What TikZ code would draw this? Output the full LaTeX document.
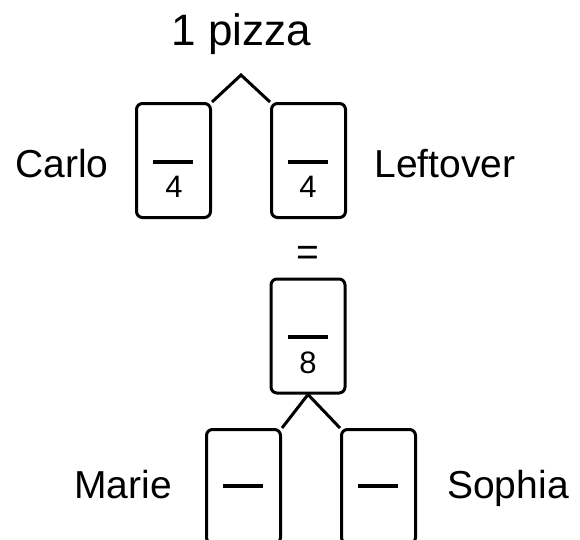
\documentclass[tikz,border=0pt]{standalone}
\usepackage{fontspec}
\setmainfont{Liberation Sans}
\begin{document}
\begin{tikzpicture}[x=1pt,y=-1pt,
  box/.style={draw,line width=3pt,rounded corners=6pt,minimum width=74pt,minimum height=114pt,inner sep=0pt},
  fbar/.style={fill,minimum width=40pt,minimum height=4pt,inner sep=0pt},
  lbl/.style={font=\fontsize{39}{39}\selectfont,anchor=base,inner sep=0pt},
  ttl/.style={font=\fontsize{44}{44}\selectfont,anchor=base,inner sep=0pt},
  dig/.style={font=\fontsize{31}{31}\selectfont,anchor=base,inner sep=0pt},
  conn/.style={line width=3pt,line join=miter}]
\useasboundingbox (0,0) rectangle (580,539);
\clip (0,0) rectangle (580,539);
% boxes
\node[box] (L) at (173.5,160.5) {};
\node[box] (R) at (308.5,160.5) {};
\node[box] (M) at (308,336) {};
\node[box] (BL) at (243.5,486.5) {};
\node[box] (BR) at (378.5,486.5) {};
% bars
\node[fbar] (Lb) at (173,162) {};
\node[fbar] (Rb) at (308,162) {};
\node[fbar] (Mb) at (307.5,337) {};
\node[fbar] (BLb) at (243,486) {};
\node[fbar] (BRb) at (378,486) {};
% digits
\node[dig] (Ld) at (174,197.5) {4};
\node[dig] (Rd) at (308,197.5) {4};
\node[dig] (Md) at (308,373.5) {8};
% labels
\node[ttl] (title) at (241.5,45) {1 pizza};
\node[lbl] (carlo) at (62,177) {Carlo};
\node[lbl] (left) at (445,177) {Leftover};
\node[lbl] (eq) at (308,265) {=};
\node[lbl] (marie) at (123,498) {Marie};
\node[lbl] (sophia) at (508,498) {Sophia};
% connectors
\coordinate (apex) at (241,75);
\draw[conn] (L.north east) -- (apex) -- (R.north west);
\draw[conn] (BL.north east) -- (M.south) -- (BR.north west);
\end{tikzpicture}
\end{document}
